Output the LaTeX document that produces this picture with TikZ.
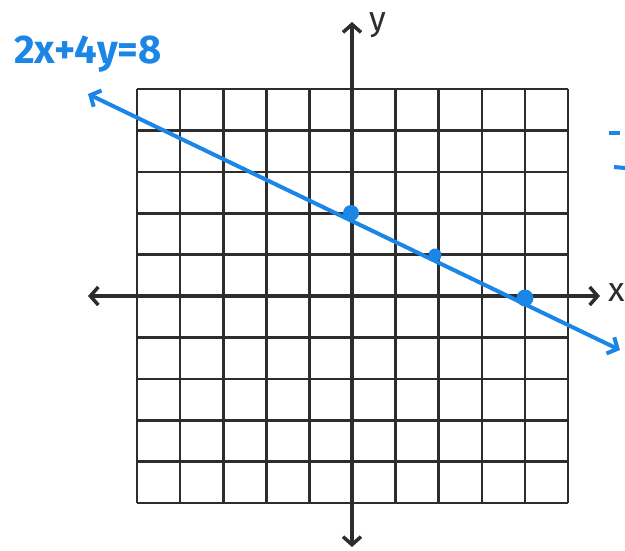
\documentclass[tikz,border=0pt]{standalone}
\usepackage{fontspec}
\setmainfont{Fira Sans}
\usetikzlibrary{arrows.meta}
\definecolor{penblue}{RGB}{28,134,230}
\definecolor{ink}{RGB}{45,45,45}
\tikzset{
  gridline/.style={ink, line width=2.6pt},
  axisline/.style={ink, line width=3.5pt, -{Straight Barb[length=8pt,width=18pt,line width=3.5pt]}},
  graphline/.style={penblue, line width=4pt, {Straight Barb[length=8pt,width=18pt,line width=4pt]}-{Straight Barb[length=8pt,width=18pt,line width=4pt]}},
  dotpt/.style={circle, fill=penblue, inner sep=0pt, minimum size=#1},
  axlabel/.style={ink, font=\fontsize{34}{34}\selectfont},
  eqlabel/.style={penblue, font=\fontsize{40}{40}\selectfont\bfseries}
}
\begin{document}
\begin{tikzpicture}[x=1pt,y=-1pt]
\useasboundingbox (0,0) rectangle (625,550);
% grid
\foreach \i in {0,...,10} {
  \draw[gridline] ({137+\i*43.1},89) -- ({137+\i*43.1},503);
  \draw[gridline] (137,{89+\i*41.4}) -- (568,{89+\i*41.4});
}
% axes
\coordinate (o) at (352,296);
\coordinate (xr) at (600,296);
\coordinate (xl) at (88,296);
\coordinate (yt) at (352,22);
\coordinate (yb) at (352,547);
\draw[axisline] (o) -- (xr);
\draw[axisline] (o) -- (xl);
\draw[axisline] (o) -- (yt);
\draw[axisline] (o) -- (yb);
\node[axlabel] (xlab) at (617,293) {x};
\node[axlabel] (ylab) at (378,25) {y};
% line 2x+4y=8
\coordinate (lstart) at (88,94);
\coordinate (lend) at (620,350);
\draw[graphline] (lstart) -- (lend);
\node[dotpt=16pt] (p1) at (351,213) {};
\node[dotpt=13pt] (p2) at (435,255) {};
\node[dotpt=17pt] (p3) at (525,298) {};
\node[eqlabel] (eq) at (88,54) {2x+4y=8};
% stray marks at right edge
\draw[penblue, line width=4pt] (609,133) -- (620,133);
\draw[penblue, line width=4pt] (614,167) -- (625,168);
\end{tikzpicture}
\end{document}
